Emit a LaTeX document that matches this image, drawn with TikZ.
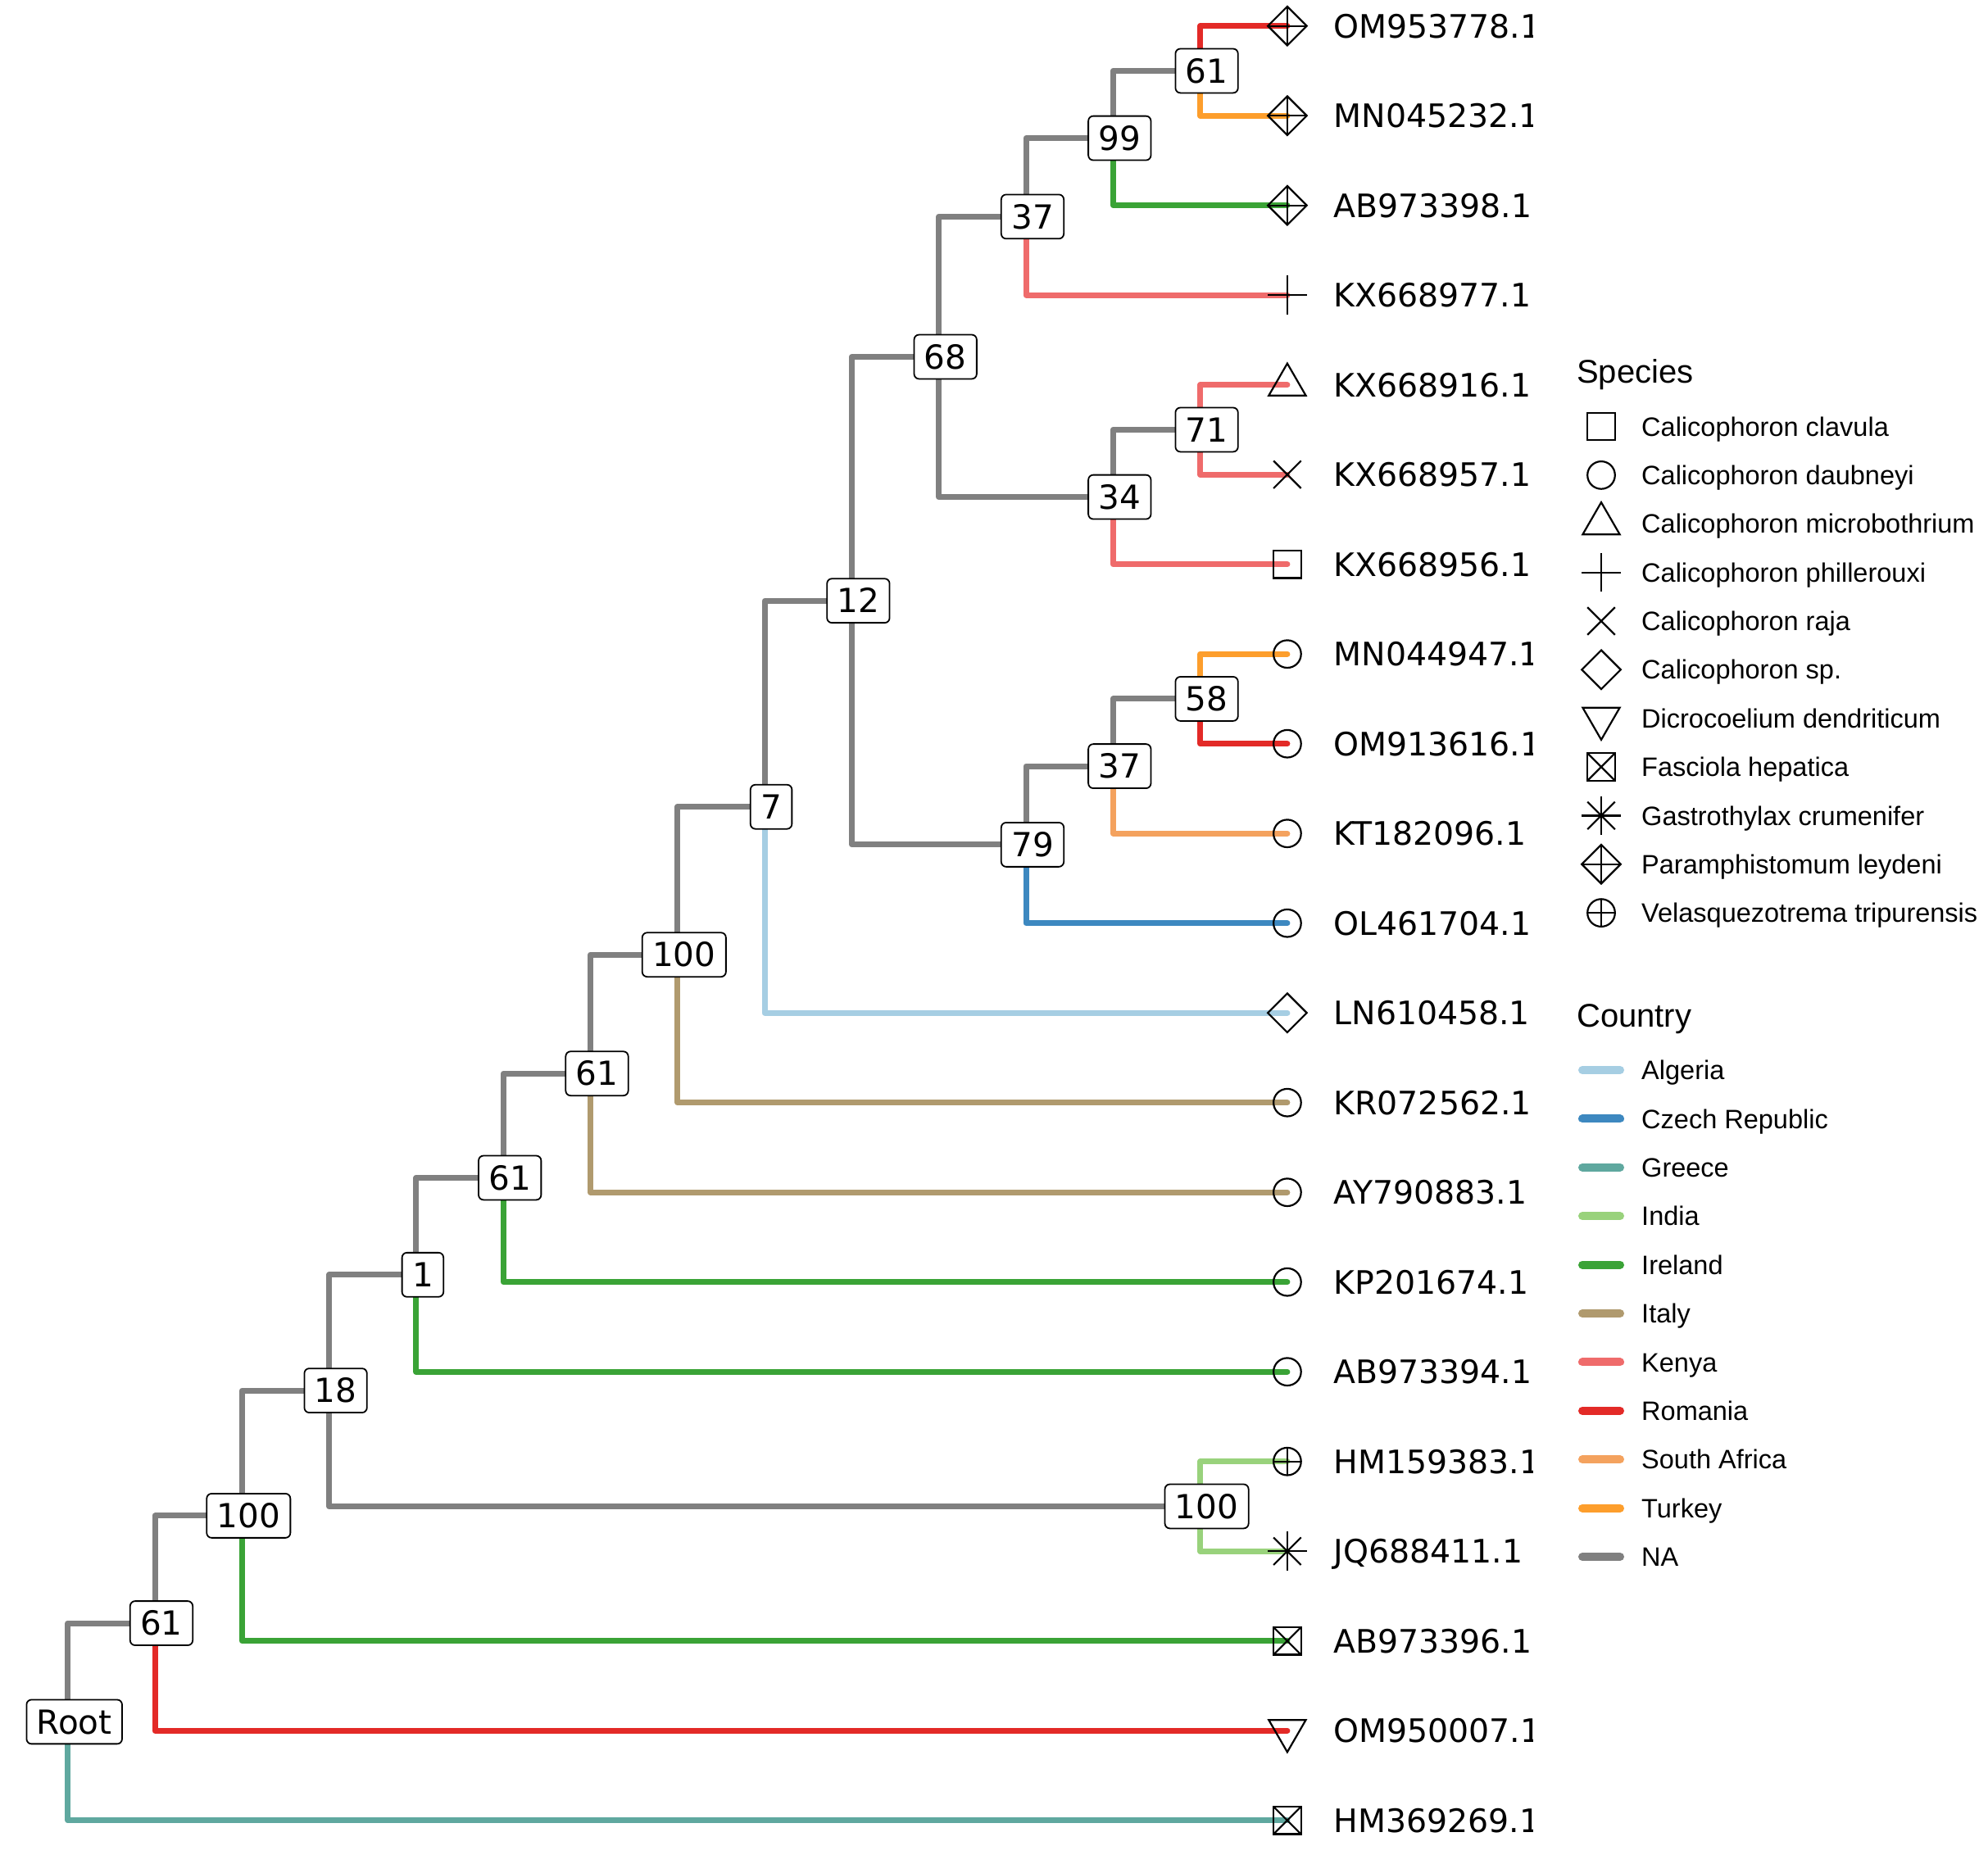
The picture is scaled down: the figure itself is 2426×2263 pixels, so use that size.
\documentclass[tikz,border=0pt]{standalone}
\usepackage{fontspec}
\setmainfont{DejaVu Sans}
\newfontfamily\legfont{Liberation Sans}
\definecolor{cAlg}{HTML}{A6CEE3}
\definecolor{cCze}{HTML}{3D88C0}
\definecolor{cGre}{HTML}{5FA89F}
\definecolor{cInd}{HTML}{99D27C}
\definecolor{cIre}{HTML}{3AA336}
\definecolor{cIta}{HTML}{B09A6E}
\definecolor{cKen}{HTML}{EF6B6B}
\definecolor{cRom}{HTML}{E32A27}
\definecolor{cSaf}{HTML}{F4A25E}
\definecolor{cTur}{HTML}{FD9E2C}
\definecolor{cNA}{HTML}{808080}
\tikzset{
  edge/.style={line width=7pt, line cap=round, line join=round},
  symline/.style={draw=black, line width=2.2pt, line join=miter},
  bslab/.style={draw=black, fill=white, line width=1.8pt, rounded corners=6pt,
    font=\fontsize{40.5pt}{44pt}\selectfont, text height=29.5pt, text depth=0pt,
    inner xsep=12.4pt, inner ysep=12.2pt, xshift=8pt},
  tiplab/.style={anchor=base west, inner sep=0pt, font=\fontsize{39.4pt}{44pt}\selectfont},
  legtitle/.style={anchor=base west, inner sep=0pt, font=\legfont\fontsize{40pt}{44pt}\selectfont},
  legitem/.style={anchor=base west, inner sep=0pt, font=\legfont\fontsize{32.5pt}{36pt}\selectfont},
  legline/.style={line width=10pt, line cap=round},
  pSquare/.pic={\draw[symline] (-16.8,-16.8) rectangle (16.8,16.8);},
  pCircle/.pic={\draw[symline] (0,0) circle[radius=16.8pt];},
  pTriUp/.pic={\draw[symline] (0,-26.13) -- (22.63,13.06) -- (-22.63,13.06) -- cycle;},
  pTriDown/.pic={\draw[symline] (0,26.13) -- (22.63,-13.06) -- (-22.63,-13.06) -- cycle;},
  pPlus/.pic={\draw[symline] (-23.76,0) -- (23.76,0) (0,-23.76) -- (0,23.76);},
  pCross/.pic={\draw[symline] (-16.8,-16.8) -- (16.8,16.8) (-16.8,16.8) -- (16.8,-16.8);},
  pDiamond/.pic={\draw[symline] (-23.76,0) -- (0,-23.76) -- (23.76,0) -- (0,23.76) -- cycle;},
  pBoxX/.pic={\draw[symline] (-16.8,-16.8) rectangle (16.8,16.8);
              \draw[symline] (-16.8,-16.8) -- (16.8,16.8) (-16.8,16.8) -- (16.8,-16.8);},
  pAster/.pic={\draw[symline] (-16.8,-16.8) -- (16.8,16.8) (-16.8,16.8) -- (16.8,-16.8);
               \draw[symline] (-23.76,0) -- (23.76,0) (0,-23.76) -- (0,23.76);},
  pDiaPlus/.pic={\draw[symline] (-23.76,0) -- (0,-23.76) -- (23.76,0) -- (0,23.76) -- cycle;
                 \draw[symline] (-23.76,0) -- (23.76,0) (0,-23.76) -- (0,23.76);},
  pCircPlus/.pic={\draw[symline] (0,0) circle[radius=16.8pt];
                  \draw[symline] (-16.8,0) -- (16.8,0) (0,-16.8) -- (0,16.8);},
}
\begin{document}
\begin{tikzpicture}[x=1pt, y=-1pt]
\useasboundingbox (0,0) rectangle (2426,2263);
\fill[white] (0,0) rectangle (2426,2263);

% tips
\coordinate (t0) at (1570.9,31.7);
\coordinate (t1) at (1570.9,141.2);
\coordinate (t2) at (1570.9,250.7);
\coordinate (t3) at (1570.9,360.2);
\coordinate (t4) at (1570.9,469.7);
\coordinate (t5) at (1570.9,579.2);
\coordinate (t6) at (1570.9,688.7);
\coordinate (t7) at (1570.9,798.2);
\coordinate (t8) at (1570.9,907.7);
\coordinate (t9) at (1570.9,1017.2);
\coordinate (t10) at (1570.9,1126.7);
\coordinate (t11) at (1570.9,1236.2);
\coordinate (t12) at (1570.9,1345.7);
\coordinate (t13) at (1570.9,1455.2);
\coordinate (t14) at (1570.9,1564.7);
\coordinate (t15) at (1570.9,1674.2);
\coordinate (t16) at (1570.9,1783.7);
\coordinate (t17) at (1570.9,1893.2);
\coordinate (t18) at (1570.9,2002.7);
\coordinate (t19) at (1570.9,2112.2);
\coordinate (t20) at (1570.9,2221.7);

% internal nodes
\coordinate (n61a) at (1464.6,86.45);
\coordinate (n99) at (1358.3,168.575);
\coordinate (n37a) at (1252.0,264.39);
\coordinate (n71) at (1464.6,524.45);
\coordinate (n34) at (1358.3,606.575);
\coordinate (n68) at (1145.7,435.48);
\coordinate (n58) at (1464.6,852.95);
\coordinate (n37b) at (1358.3,935.075);
\coordinate (n79) at (1252.0,1030.89);
\coordinate (n12) at (1039.4,733.18);
\coordinate (n7) at (933.1,984.69);
\coordinate (n100a) at (826.8,1165.2);
\coordinate (n61b) at (720.5,1310.2);
\coordinate (n61c) at (614.2,1437.45);
\coordinate (n1) at (507.9,1555.8);
\coordinate (n100b) at (1464.6,1838.45);
\coordinate (n18) at (401.6,1697.1);
\coordinate (n100c) at (295.3,1849.9);
\coordinate (n61d) at (189.0,1981.05);
\coordinate (root) at (82.7,2101.4);

% edges
\draw[edge,cRom] (n61a) |- (t0);
\draw[edge,cTur] (n61a) |- (t1);
\draw[edge,cNA] (n99) |- (n61a);
\draw[edge,cIre] (n99) |- (t2);
\draw[edge,cNA] (n37a) |- (n99);
\draw[edge,cKen] (n37a) |- (t3);
\draw[edge,cKen] (n71) |- (t4);
\draw[edge,cKen] (n71) |- (t5);
\draw[edge,cNA] (n34) |- (n71);
\draw[edge,cKen] (n34) |- (t6);
\draw[edge,cNA] (n68) |- (n37a);
\draw[edge,cNA] (n68) |- (n34);
\draw[edge,cTur] (n58) |- (t7);
\draw[edge,cRom] (n58) |- (t8);
\draw[edge,cNA] (n37b) |- (n58);
\draw[edge,cSaf] (n37b) |- (t9);
\draw[edge,cNA] (n79) |- (n37b);
\draw[edge,cCze] (n79) |- (t10);
\draw[edge,cNA] (n12) |- (n68);
\draw[edge,cNA] (n12) |- (n79);
\draw[edge,cNA] (n7) |- (n12);
\draw[edge,cAlg] (n7) |- (t11);
\draw[edge,cNA] (n100a) |- (n7);
\draw[edge,cIta] (n100a) |- (t12);
\draw[edge,cNA] (n61b) |- (n100a);
\draw[edge,cIta] (n61b) |- (t13);
\draw[edge,cNA] (n61c) |- (n61b);
\draw[edge,cIre] (n61c) |- (t14);
\draw[edge,cNA] (n1) |- (n61c);
\draw[edge,cIre] (n1) |- (t15);
\draw[edge,cInd] (n100b) |- (t16);
\draw[edge,cInd] (n100b) |- (t17);
\draw[edge,cNA] (n18) |- (n1);
\draw[edge,cNA] (n18) |- (n100b);
\draw[edge,cNA] (n100c) |- (n18);
\draw[edge,cIre] (n100c) |- (t18);
\draw[edge,cNA] (n61d) |- (n100c);
\draw[edge,cRom] (n61d) |- (t19);
\draw[edge,cNA] (root) |- (n61d);
\draw[edge,cGre] (root) |- (t20);

% node labels
\node[bslab] (b61a) at (n61a) {61};
\node[bslab] (b99) at (n99) {99};
\node[bslab] (b37a) at (n37a) {37};
\node[bslab] (b71) at (n71) {71};
\node[bslab] (b34) at (n34) {34};
\node[bslab] (b68) at (n68) {68};
\node[bslab] (b58) at (n58) {58};
\node[bslab] (b37b) at (n37b) {37};
\node[bslab] (b79) at (n79) {79};
\node[bslab] (b12) at (n12) {12};
\node[bslab] (b7) at (n7) {7};
\node[bslab] (b100a) at (n100a) {100};
\node[bslab] (b61b) at (n61b) {61};
\node[bslab] (b61c) at (n61c) {61};
\node[bslab] (b1) at (n1) {1};
\node[bslab] (b100b) at (n100b) {100};
\node[bslab] (b18) at (n18) {18};
\node[bslab] (b100c) at (n100c) {100};
\node[bslab] (b61d) at (n61d) {61};
\node[bslab] (broot) at (root) {Root};

% tip symbols
\pic at (t0) {pDiaPlus};
\pic at (t1) {pDiaPlus};
\pic at (t2) {pDiaPlus};
\pic at (t3) {pPlus};
\pic at (t4) {pTriUp};
\pic at (t5) {pCross};
\pic at (t6) {pSquare};
\pic at (t7) {pCircle};
\pic at (t8) {pCircle};
\pic at (t9) {pCircle};
\pic at (t10) {pCircle};
\pic at (t11) {pDiamond};
\pic at (t12) {pCircle};
\pic at (t13) {pCircle};
\pic at (t14) {pCircle};
\pic at (t15) {pCircle};
\pic at (t16) {pCircPlus};
\pic at (t17) {pAster};
\pic at (t18) {pBoxX};
\pic at (t19) {pTriDown};
\pic at (t20) {pBoxX};

% tip labels (clipped at the panel edge)
\begin{scope}
\clip (0,0) rectangle (1870.5,2263);
\node[tiplab] (l0) at ([shift={(56.5,14.4)}]t0) {OM953778.1};
\node[tiplab] (l1) at ([shift={(56.5,14.4)}]t1) {MN045232.1};
\node[tiplab] (l2) at ([shift={(56.5,14.4)}]t2) {AB973398.1};
\node[tiplab] (l3) at ([shift={(56.5,14.4)}]t3) {KX668977.1};
\node[tiplab] (l4) at ([shift={(56.5,14.4)}]t4) {KX668916.1};
\node[tiplab] (l5) at ([shift={(56.5,14.4)}]t5) {KX668957.1};
\node[tiplab] (l6) at ([shift={(56.5,14.4)}]t6) {KX668956.1};
\node[tiplab] (l7) at ([shift={(56.5,14.4)}]t7) {MN044947.1};
\node[tiplab] (l8) at ([shift={(56.5,14.4)}]t8) {OM913616.1};
\node[tiplab] (l9) at ([shift={(56.5,14.4)}]t9) {KT182096.1};
\node[tiplab] (l10) at ([shift={(56.5,14.4)}]t10) {OL461704.1};
\node[tiplab] (l11) at ([shift={(56.5,14.4)}]t11) {LN610458.1};
\node[tiplab] (l12) at ([shift={(56.5,14.4)}]t12) {KR072562.1};
\node[tiplab] (l13) at ([shift={(56.5,14.4)}]t13) {AY790883.1};
\node[tiplab] (l14) at ([shift={(56.5,14.4)}]t14) {KP201674.1};
\node[tiplab] (l15) at ([shift={(56.5,14.4)}]t15) {AB973394.1};
\node[tiplab] (l16) at ([shift={(56.5,14.4)}]t16) {HM159383.1};
\node[tiplab] (l17) at ([shift={(56.5,14.4)}]t17) {JQ688411.1};
\node[tiplab] (l18) at ([shift={(56.5,14.4)}]t18) {AB973396.1};
\node[tiplab] (l19) at ([shift={(56.5,14.4)}]t19) {OM950007.1};
\node[tiplab] (l20) at ([shift={(56.5,14.4)}]t20) {HM369269.1};
\end{scope}

% legend: species
\node[legtitle] (spt) at (1924,467) {Species};
\pic at (1954,520.5) {pSquare};
\pic at (1954,579.9) {pCircle};
\pic at (1954,639.2) {pTriUp};
\pic at (1954,698.6) {pPlus};
\pic at (1954,758.0) {pCross};
\pic at (1954,817.3) {pDiamond};
\pic at (1954,876.7) {pTriDown};
\pic at (1954,936.0) {pBoxX};
\pic at (1954,995.4) {pAster};
\pic at (1954,1054.7) {pDiaPlus};
\pic at (1954,1114.1) {pCircPlus};
\node[legitem] (sp0) at (2003,532.1) {Calicophoron clavula};
\node[legitem] (sp1) at (2003,591.5) {Calicophoron daubneyi};
\node[legitem] (sp2) at (2003,650.8) {Calicophoron microbothrium};
\node[legitem] (sp3) at (2003,710.2) {Calicophoron phillerouxi};
\node[legitem] (sp4) at (2003,769.6) {Calicophoron raja};
\node[legitem] (sp5) at (2003,828.9) {Calicophoron sp.};
\node[legitem] (sp6) at (2003,888.3) {Dicrocoelium dendriticum};
\node[legitem] (sp7) at (2003,947.6) {Fasciola hepatica};
\node[legitem] (sp8) at (2003,1007.0) {Gastrothylax crumenifer};
\node[legitem] (sp9) at (2003,1066.3) {Paramphistomum leydeni};
\node[legitem] (sp10) at (2003,1125.7) {Velasquezotrema tripurensis};

% legend: country
\node[legtitle] (cot) at (1924,1253) {Country};
\draw[legline,cAlg] (1931,1306.0) -- (1977,1306.0);
\draw[legline,cCze] (1931,1365.4) -- (1977,1365.4);
\draw[legline,cGre] (1931,1424.8) -- (1977,1424.8);
\draw[legline,cInd] (1931,1484.2) -- (1977,1484.2);
\draw[legline,cIre] (1931,1543.6) -- (1977,1543.6);
\draw[legline,cIta] (1931,1603.0) -- (1977,1603.0);
\draw[legline,cKen] (1931,1662.4) -- (1977,1662.4);
\draw[legline,cRom] (1931,1721.8) -- (1977,1721.8);
\draw[legline,cSaf] (1931,1781.2) -- (1977,1781.2);
\draw[legline,cTur] (1931,1840.6) -- (1977,1840.6);
\draw[legline,cNA] (1931,1900.0) -- (1977,1900.0);
\node[legitem] (co0) at (2003,1317.6) {Algeria};
\node[legitem] (co1) at (2003,1377.0) {Czech Republic};
\node[legitem] (co2) at (2003,1436.4) {Greece};
\node[legitem] (co3) at (2003,1495.8) {India};
\node[legitem] (co4) at (2003,1555.2) {Ireland};
\node[legitem] (co5) at (2003,1614.6) {Italy};
\node[legitem] (co6) at (2003,1674.0) {Kenya};
\node[legitem] (co7) at (2003,1733.4) {Romania};
\node[legitem] (co8) at (2003,1792.8) {South Africa};
\node[legitem] (co9) at (2003,1852.2) {Turkey};
\node[legitem] (co10) at (2003,1911.6) {NA};
\end{tikzpicture}
\end{document}
